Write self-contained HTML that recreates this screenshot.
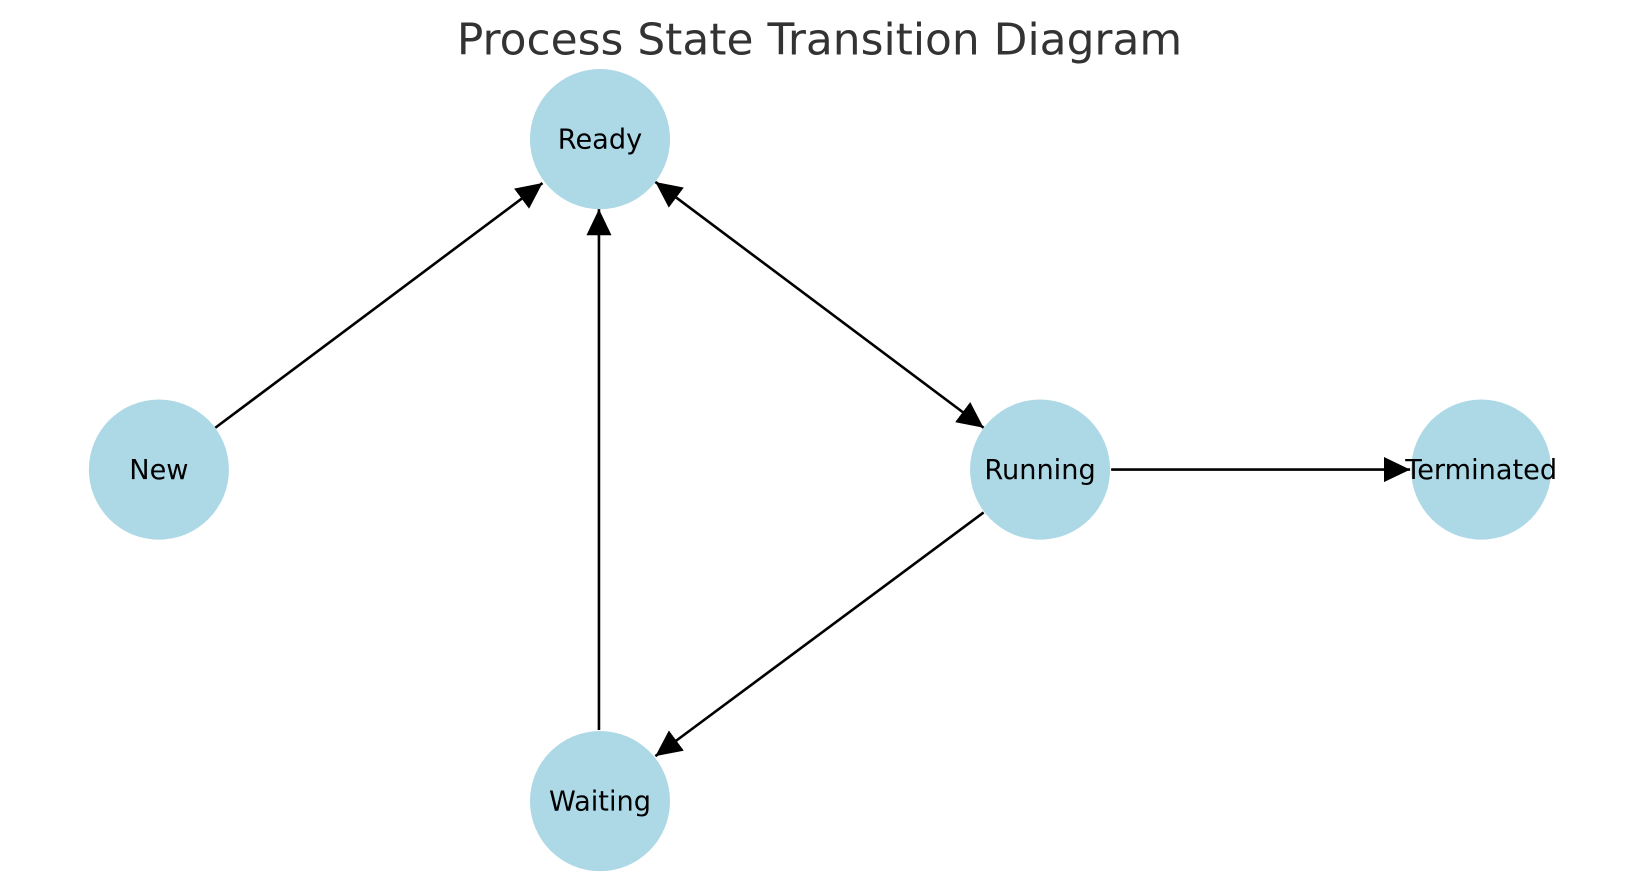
<!DOCTYPE html>
<html><head><meta charset="utf-8"><style>html,body{margin:0;padding:0;background:#fff;}svg{display:block}</style></head>
<body>
<svg width="1639" height="890" viewBox="0 0 1568 851" preserveAspectRatio="none" xmlns="http://www.w3.org/2000/svg">
<defs>
<marker id="a" markerUnits="userSpaceOnUse" markerWidth="26" markerHeight="24" refX="25" refY="12" orient="auto-start-reverse" viewBox="0 0 26 24"><path d="M0,0 L25,12 L0,24 Z" fill="#000"/></marker>
</defs>
<text x="784" y="52" text-anchor="middle" font-family="DejaVu Sans, Liberation Sans, sans-serif" font-size="42" fill="#333">Process State Transition Diagram</text>
<g fill="#add8e6">
<circle cx="574" cy="133" r="67"/>
<circle cx="152" cy="449" r="67"/>
<circle cx="995" cy="449" r="67"/>
<circle cx="1417" cy="449" r="67"/>
<circle cx="574" cy="766" r="67"/>
</g>
<g stroke="#000" stroke-width="2.5" fill="none">
<line x1="206" y1="409" x2="519" y2="175" marker-end="url(#a)"/>
<line x1="573" y1="698" x2="573" y2="200" marker-end="url(#a)"/>
<line x1="627" y1="174" x2="941" y2="409" marker-start="url(#a)" marker-end="url(#a)"/>
<line x1="941" y1="490" x2="627" y2="723" marker-end="url(#a)"/>
<line x1="1063" y1="449" x2="1349" y2="449" marker-end="url(#a)"/>
</g>
<g font-family="DejaVu Sans, Liberation Sans, sans-serif" font-size="26" fill="#000" text-anchor="middle">
<text x="574" y="142">Ready</text>
<text x="152" y="458">New</text>
<text x="995" y="458">Running</text>
<text x="1417" y="458">Terminated</text>
<text x="574" y="775">Waiting</text>
</g>
</svg>
</body></html>
